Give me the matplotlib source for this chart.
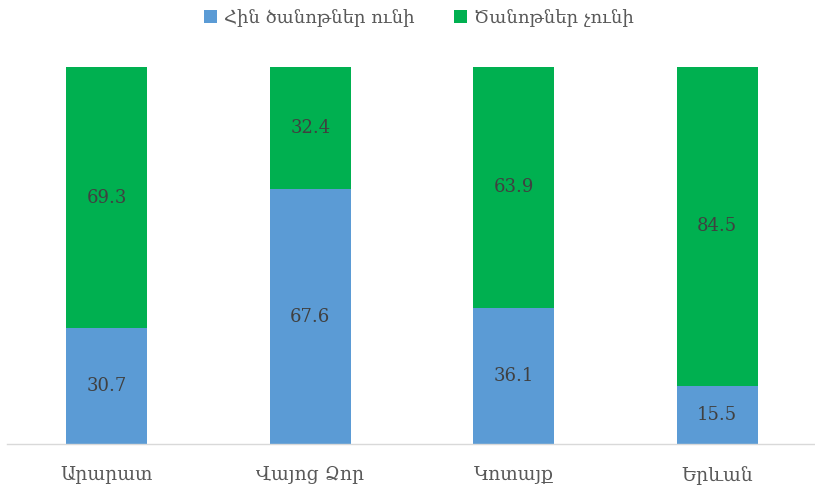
import matplotlib.pyplot as plt
import numpy as np

plt.rcParams['font.family'] = ['DejaVu Serif', 'DejaVu Sans']

regions = ["Արարատ", "Վայոց Ձոր", "Կոտայք", "Երևան"]
has_trees = [30.7, 67.6, 36.1, 15.5]
no_trees = [69.3, 32.4, 63.9, 84.5]
series_names = ["Հին ծանոթներ ունի", "Ծանոթներ չունի"]

blue = "#5B9BD5"
green = "#00B050"

fig = plt.figure(figsize=(8.15, 4.9), dpi=100)
ax = fig.add_axes([5 / 815, 1 - 444 / 490, 814 / 815, (444 - 67) / 490])

x = np.arange(len(regions))
w = 0.4
b1 = ax.bar(x, has_trees, w, color=blue, label=series_names[0])
b2 = ax.bar(x, no_trees, w, bottom=has_trees, color=green, label=series_names[1])

for i in range(len(regions)):
    ax.text(x[i], has_trees[i] / 2, f"{has_trees[i]:.1f}", ha="center", va="center",
            fontsize=13, color="#404040")
    ax.text(x[i], has_trees[i] + no_trees[i] / 2, f"{no_trees[i]:.1f}", ha="center",
            va="center", fontsize=13, color="#404040")

ax.set_xlim(-0.5, 3.5)
ax.set_ylim(0, 100)
ax.set_yticks([])
ax.set_xticks(x)
ax.set_xticklabels(regions, fontsize=13.5, color="#595959")
ax.tick_params(axis="x", length=0, pad=16)
for s in ["top", "right", "left"]:
    ax.spines[s].set_visible(False)
ax.spines["bottom"].set_color("#D9D9D9")
ax.spines["bottom"].set_linewidth(1)
ax.spines["bottom"].set_bounds(-0.49, 3.5)

fig.legend(handles=[b1, b2], loc="center", bbox_to_anchor=(419 / 815, 1 - 18 / 490),
           ncol=2, frameon=False, fontsize=13, handlelength=0.7, handleheight=0.7,
           handletextpad=0.4, columnspacing=2.2, labelcolor="#595959")

fig.savefig("out.png", dpi=100)
